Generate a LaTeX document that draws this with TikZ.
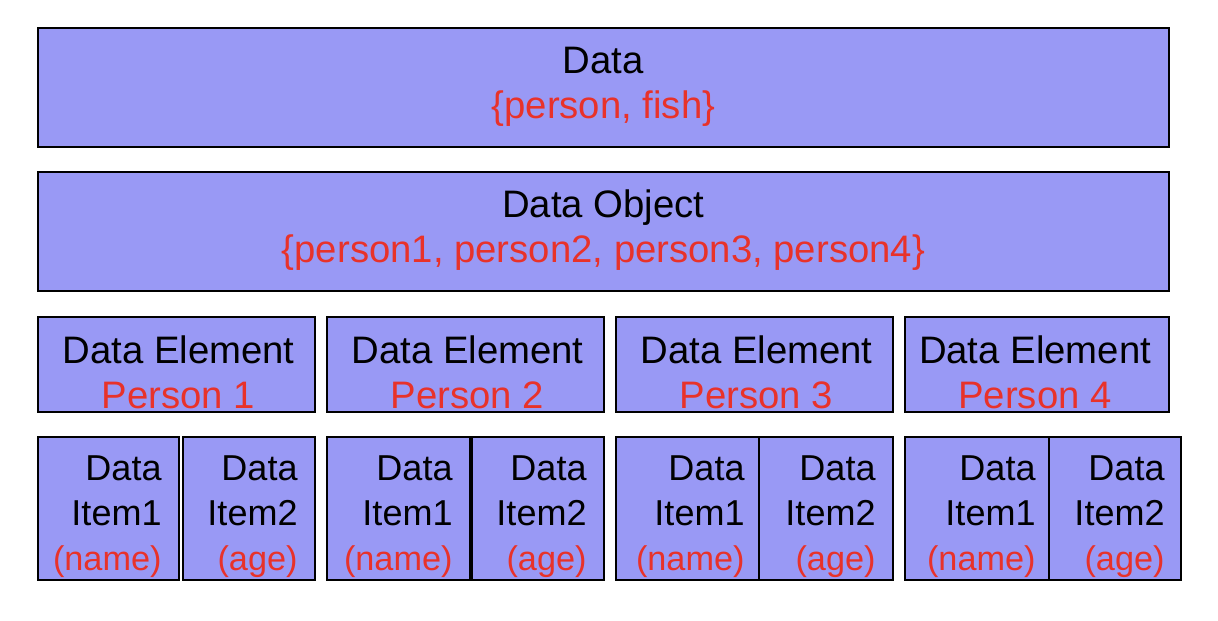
\documentclass[tikz,border=0pt]{standalone}
\usepackage{fontspec}
\setmainfont{Liberation Sans}
\usepackage{xcolor}
\usetikzlibrary{positioning}

\definecolor{boxblue}{HTML}{9999F5}
\definecolor{labelred}{HTML}{E8322A}

\begin{document}
\begin{tikzpicture}[
x=0.02cm, y=-0.02cm,
layer/.style={
rectangle,
draw,
line width=1.2pt,
fill=boxblue,
anchor=north west,
minimum height=2.38cm
},
element/.style={
rectangle,
draw,
line width=1.2pt,
fill=boxblue,
anchor=north west,
minimum height=1.9cm
},
item/.style={
rectangle,
draw,
line width=1.1pt,
fill=boxblue,
anchor=north west,
minimum height=2.86cm
},
bigtext/.style={
align=center,
font=\fontsize{21.8pt}{25.6pt}\selectfont
},
itemtext/.style={
align=right,
anchor=east,
inner sep=0pt,
font=\fontsize{20.5pt}{25.6pt}\selectfont
}
]
\useasboundingbox (0,0) rectangle (1218,620);

% Ebenen
\node[layer, minimum width=22.62cm] (data) at (37,27) {};
\node[bigtext] (data-text) at ([yshift=0.01cm]data.center) {Data\\\textcolor{labelred}{\{person, fish\}}};
\node[layer, minimum width=22.62cm] (data-object) at (37,171) {};
\node[bigtext] (data-object-text) at ([yshift=0.02cm]data-object.center) {Data Object\\\textcolor{labelred}{\{person1, person2, person3, person4\}}};

% Elemente
\node[element, minimum width=5.54cm] (element1) at (37,316) {};
\node[element, minimum width=5.54cm] (element2) at (326,316) {};
\node[element, minimum width=5.54cm] (element3) at (615,316) {};
\node[element, minimum width=5.28cm] (element4) at (904,316) {};
\node[bigtext] (element1-text) at ([xshift=0.04cm, yshift=-0.16cm]element1.center) {Data Element\\\textcolor{labelred}{Person 1}};
\node[bigtext] (element2-text) at ([xshift=0.04cm, yshift=-0.16cm]element2.center) {Data Element\\\textcolor{labelred}{Person 2}};
\node[bigtext] (element3-text) at ([xshift=0.04cm, yshift=-0.16cm]element3.center) {Data Element\\\textcolor{labelred}{Person 3}};
\node[bigtext] (element4-text) at ([xshift=-0.04cm, yshift=-0.16cm]element4.center) {Data Element\\\textcolor{labelred}{Person 4}};

% Items
\node[item, minimum width=2.82cm] (item1a) at (37,436) {};
\node[item, minimum width=2.64cm] (item1b) at (182,436) {};
\node[item, minimum width=2.86cm] (item2a) at (326,436) {};
\node[item, minimum width=2.64cm] (item2b) at (471,436) {};
\node[item, minimum width=2.86cm] (item3a) at (615,436) {};
\node[item, minimum width=2.68cm] (item3b) at (758,436) {};
\node[item, minimum width=2.88cm] (item4a) at (904,436) {};
\node[item, minimum width=2.64cm] (item4b) at (1048,436) {};

\node[itemtext] (item1a-text) at ([xshift=-0.36cm, yshift=-0.17cm]item1a.east) {Data\\Item1\\\textcolor{labelred}{\fontsize{19.5pt}{22pt}\selectfont(name)}};
\node[itemtext] (item1b-text) at ([xshift=-0.36cm, yshift=-0.17cm]item1b.east) {Data\\Item2\\\textcolor{labelred}{\fontsize{19.5pt}{22pt}\selectfont(age)}};
\node[itemtext] (item2a-text) at ([xshift=-0.36cm, yshift=-0.17cm]item2a.east) {Data\\Item1\\\textcolor{labelred}{\fontsize{19.5pt}{22pt}\selectfont(name)}};
\node[itemtext] (item2b-text) at ([xshift=-0.36cm, yshift=-0.17cm]item2b.east) {Data\\Item2\\\textcolor{labelred}{\fontsize{19.5pt}{22pt}\selectfont(age)}};
\node[itemtext] (item3a-text) at ([xshift=-0.3cm, yshift=-0.17cm]item3a.east) {Data\\Item1\\\textcolor{labelred}{\fontsize{19.5pt}{22pt}\selectfont(name)}};
\node[itemtext] (item3b-text) at ([xshift=-0.36cm, yshift=-0.17cm]item3b.east) {Data\\Item2\\\textcolor{labelred}{\fontsize{19.5pt}{22pt}\selectfont(age)}};
\node[itemtext] (item4a-text) at ([xshift=-0.28cm, yshift=-0.17cm]item4a.east) {Data\\Item1\\\textcolor{labelred}{\fontsize{19.5pt}{22pt}\selectfont(name)}};
\node[itemtext] (item4b-text) at ([xshift=-0.34cm, yshift=-0.17cm]item4b.east) {Data\\Item2\\\textcolor{labelred}{\fontsize{19.5pt}{22pt}\selectfont(age)}};
\end{tikzpicture}
\end{document}
